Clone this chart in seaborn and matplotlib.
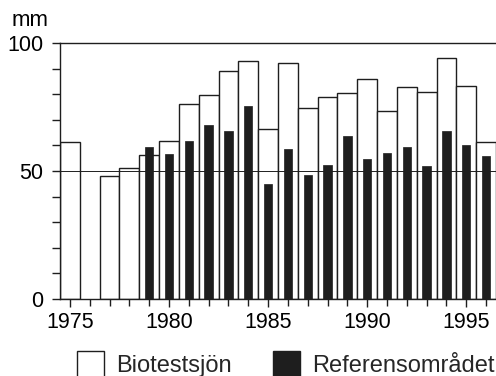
import matplotlib
matplotlib.use("Agg")
import matplotlib.pyplot as plt
import seaborn as sns
import pandas as pd
from matplotlib.patches import Patch
from matplotlib.ticker import MultipleLocator

# Data
bio_years = [1975, 1977, 1978, 1979, 1980, 1981, 1982, 1983, 1984, 1985, 1986,
             1987, 1988, 1989, 1990, 1991, 1992, 1993, 1994, 1995, 1996]
bio_values = [61.4, 48.0, 51.2, 56.1, 61.7, 76.2, 79.7, 88.9, 93.1, 66.3, 92.1,
              74.7, 78.8, 80.5, 85.9, 73.6, 82.9, 80.9, 94.0, 83.2, 61.4]
ref_years = [1979, 1980, 1981, 1982, 1983, 1984, 1985, 1986, 1987, 1988, 1989,
             1990, 1991, 1992, 1993, 1994, 1995, 1996]
ref_values = [59.2, 56.5, 61.8, 67.8, 65.6, 75.3, 44.9, 58.7, 48.3, 52.5, 63.5,
              54.7, 56.9, 59.2, 52.0, 65.5, 60.2, 55.9]
labels = ["Biotestsjön", "Referensområdet"]
unit = "mm"

sns.set_style("ticks")
plt.rcParams["font.family"] = ["Liberation Sans", "DejaVu Sans"]

ink = "#1e1e1e"
fig = plt.figure(figsize=(4.96, 3.76), dpi=100)
ax = fig.add_axes([60 / 496, 77 / 376, 436 / 496, 256 / 376])

bio = pd.DataFrame({"year": bio_years, "value": bio_values})
ref = pd.DataFrame({"year": ref_years, "value": ref_values})

sns.barplot(data=bio, x="year", y="value", native_scale=True, width=1.0,
            color="white", saturation=1, edgecolor=ink, linewidth=1.0,
            errorbar=None, ax=ax, zorder=1)
ax.axhline(50, color=ink, linewidth=0.7, zorder=1.5)
sns.barplot(data=ref, x="year", y="value", native_scale=True, width=0.42,
            color=ink, saturation=1, edgecolor=ink, linewidth=0.5,
            errorbar=None, ax=ax, zorder=2)

ax.set_xlim(1974.5, 1996.5)
ax.set_ylim(0, 100)
ax.set_xlabel("")
ax.set_ylabel("")

ax.xaxis.set_major_locator(MultipleLocator(5))
ax.xaxis.set_minor_locator(MultipleLocator(1))
ax.yaxis.set_major_locator(MultipleLocator(50))
ax.yaxis.set_minor_locator(MultipleLocator(10))
ax.xaxis.set_major_formatter(matplotlib.ticker.FormatStrFormatter("%d"))

for s in ["left", "bottom", "top"]:
    ax.spines[s].set_visible(True)
    ax.spines[s].set_color(ink)
    ax.spines[s].set_linewidth(1.0)
ax.spines["right"].set_visible(False)

ax.tick_params(axis="both", which="both", direction="out", color=ink,
               width=1.0, labelsize=15.5, labelcolor="black")
ax.tick_params(axis="y", which="both", length=6)
ax.tick_params(axis="y", which="major", pad=6)
ax.tick_params(axis="x", which="major", length=6, pad=3)
ax.tick_params(axis="x", which="minor", length=5)

fig.text(12 / 496, 1 - 26 / 376, unit, fontsize=16, ha="left",
         va="baseline", color="black")

handles = [Patch(facecolor="white", edgecolor=ink, linewidth=1.0),
           Patch(facecolor=ink, edgecolor=ink, linewidth=1.0)]
fig.legend(handles, labels, loc="upper left",
           bbox_to_anchor=(77 / 496, 1 - 351 / 376), ncol=2, frameon=False,
           fontsize=17, handlelength=1.15, handleheight=1.3,
           handletextpad=0.5, columnspacing=1.75, borderpad=0, borderaxespad=0)

fig.savefig("out.png", dpi=100)
